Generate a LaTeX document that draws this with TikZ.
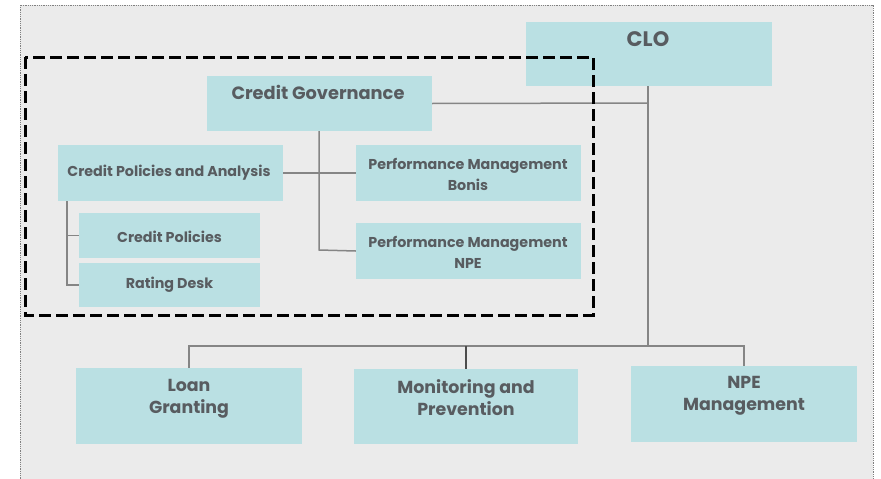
\documentclass[tikz,border=0pt]{standalone}
\usepackage{fontspec}
\setmainfont{Poppins}
\definecolor{bgc}{HTML}{EBEBEB}
\definecolor{boxc}{HTML}{BAE0E3}
\definecolor{txtc}{HTML}{585C60}
\definecolor{lnc}{HTML}{858585}
\tikzset{
  box/.style={fill=boxc, draw=none, inner sep=0pt},
  lbl/.style={text=txtc, font=\bfseries, align=center, inner sep=0pt},
  conn/.style={draw=lnc, line width=1.5pt},
}
\begin{document}
\begin{tikzpicture}[x=1pt,y=-1pt]
\useasboundingbox (0,0) rectangle (881,479);
% background
\fill[bgc] (20,5) rectangle (873,490);
\draw[gray, densely dotted, line width=0.8pt] (20,490) -- (20,5) -- (873,5) -- (873,490);

% boxes
\node[box, minimum width=246pt, minimum height=64pt] (clo) at (649,54) {};
\node[box, minimum width=225pt, minimum height=55pt] (cg) at (319.5,103.5) {};
\node[box, minimum width=225pt, minimum height=56pt] (cpa) at (170.5,173) {};
\node[box, minimum width=181pt, minimum height=45pt] (cp) at (169.5,235.5) {};
\node[box, minimum width=181pt, minimum height=44pt] (rd) at (169.5,285) {};
\node[box, minimum width=225pt, minimum height=56pt] (pmb) at (468.5,173) {};
\node[box, minimum width=225pt, minimum height=56pt] (pmn) at (468.5,251) {};
\node[box, minimum width=226pt, minimum height=76pt] (lg) at (189,406) {};
\node[box, minimum width=224pt, minimum height=75pt] (mp) at (466,406.5) {};
\node[box, minimum width=226pt, minimum height=76pt] (npe) at (744,404) {};

% labels
\node[lbl, font=\bfseries\fontsize{21}{24}\selectfont] (clo-t) at (648,39) {CLO};
\node[lbl, font=\bfseries\fontsize{17.8}{20}\selectfont] (cg-t) at (318,92) {Credit Governance};
\node[lbl, font=\bfseries\fontsize{14.3}{16}\selectfont] (cpa-t) at (169,173) {Credit Policies and Analysis};
\node[lbl, font=\bfseries\fontsize{14.3}{16}\selectfont] (cp-t) at (169.5,237) {Credit Policies};
\node[lbl, font=\bfseries\fontsize{14.3}{16}\selectfont] (rd-t) at (169.5,285) {Rating Desk};
\node[lbl, font=\bfseries\fontsize{14.3}{21}\selectfont] (pmb-t) at (468,174) {Performance Management\\Bonis};
\node[lbl, font=\bfseries\fontsize{14.3}{21}\selectfont] (pmn-t) at (468,252) {Performance Management\\NPE};
\node[lbl, font=\bfseries\fontsize{17.4}{22}\selectfont] (lg-t) at (189,399) {Loan\\Granting};
\node[lbl, font=\bfseries\fontsize{17.4}{22}\selectfont] (mp-t) at (466,398) {Monitoring and\\Prevention};
\node[lbl, font=\bfseries\fontsize{17.4}{22}\selectfont] (npe-t) at (744,396) {NPE\\Management};

% connectors
\coordinate (bus) at (648,346);
\coordinate (cgj) at (648,103);
\coordinate (cgv) at (319,250);
\coordinate (cpav) at (67,285);
\draw[conn] (clo.south -| bus) -- (bus);
\draw[conn] (cg.east) -- (cgj);
\draw[conn] (cg.south -| cgv) -- (cgv) -- (pmn.west);
\draw[conn] (cpa.east) -- (pmb.west);
\draw[conn] (cpa.south -| cpav) -- (cpav) -- (rd.west);
\draw[conn] (cp.west -| cpav) -- (cp.west);
\draw[conn] (lg.north) -- (lg.north |- bus) -- (npe.north |- bus) -- (npe.north);
\draw[conn, draw=black!70] (mp.north |- bus) -- (mp.north);

% dashed frame
\draw[black, line width=3pt, dash pattern=on 12pt off 5pt] (25,57) rectangle (593,315);
\end{tikzpicture}
\end{document}
